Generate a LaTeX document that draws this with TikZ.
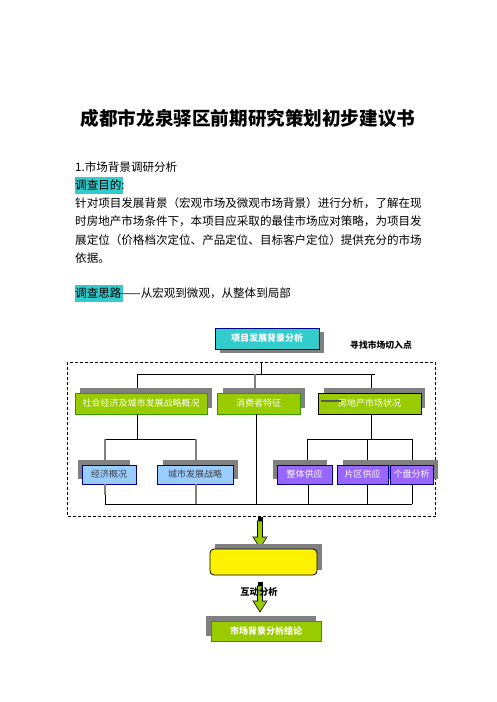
\documentclass[tikz,border=0pt]{standalone}
\usepackage{fontspec}
\setmainfont{Noto Sans CJK SC}
\usetikzlibrary{calc}
\definecolor{turq}{HTML}{33CCCC}
\definecolor{lgreen}{HTML}{99CC00}
\definecolor{dgreen}{HTML}{339900}
\definecolor{lblue}{HTML}{99CCFF}
\definecolor{purp}{HTML}{9966FF}
\definecolor{navy}{HTML}{000080}
\definecolor{shad}{HTML}{808080}
\begin{document}
\begin{tikzpicture}[x=1pt,y=-1pt,
  body/.style={anchor=west,inner sep=0pt,font=\fontsize{11.55}{14}\selectfont},
  boxbase/.style={draw,line width=0.8pt,inner sep=0pt,font=\fontsize{9}{10}\selectfont},
  gbox/.style={boxbase,fill=lgreen,draw=dgreen,text=white,minimum height=21pt},
  bbox/.style={boxbase,fill=lblue,draw=navy,text=black!75,minimum height=19pt},
  pbox/.style={boxbase,fill=purp,draw=navy,text=white,minimum height=19pt},
  shadowbox/.style={fill=shad,draw=none},
  conn/.style={line width=0.8pt,black},
  gconn/.style={line width=1.4pt,shad},
  garrow/.style={fill=lgreen,draw=black,line width=0.6pt}
]
\useasboundingbox (0,0) rectangle (496,702);
\fill[white] (0,0) rectangle (496,702);

% ---- title and text ----
\node[inner sep=0pt,font=\fontsize{18.6}{22}\selectfont\bfseries] (title) at (248,118) {成都市龙泉驿区前期研究策划初步建议书};
\node[body] (h1) at (75,167) {1.市场背景调研分析};
\fill[turq] (75,177) rectangle (122.5,193.5);
\node[body] (p0) at (75,185) {调查目的:};
\node[body] (p1) at (75,203) {针对项目发展背景（宏观市场及微观市场背景）进行分析，了解在现};
\node[body] (p2) at (75,221.5) {时房地产市场条件下，本项目应采取的最佳市场应对策略，为项目发};
\node[body] (p3) at (75,240) {展定位（价格档次定位、产品定位、目标客户定位）提供充分的市场};
\node[body] (p4) at (75,258) {依据。};
\fill[turq] (75,285) rectangle (122.5,301.5);
\node[body] (p5) at (75,293) {调查思路——从宏观到微观，从整体到局部};

% ---- top box ----
\fill[shad] (220,332) rectangle (324,353);
\node[boxbase,fill=turq,draw=navy,text=white,minimum width=104pt,minimum height=21pt,font=\fontsize{9}{10}\selectfont\bfseries] (top) at (267,338.5) {项目发展背景分析};
\node[inner sep=0pt,font=\fontsize{8.8}{10}\selectfont\bfseries] (cut) at (381,345) {寻找市场切入点};

% dashed frame
\draw[line width=0.7pt,dash pattern=on 3pt off 2pt] (67,362) rectangle (435.5,516.5);

% ---- level 2 ----
\coordinate (hub) at (261,374);
\draw[conn] (261,362) -- (hub);
\draw[conn] (137,374) -- (375,374);
\draw[conn] (137,374) -- (137,393);
\draw[conn] (371,374) -- (371,393);
\draw[gconn] (255,374) -- (255,388);

\fill[shad] (80,388) rectangle (212,408);
\fill[shad] (223,388) rectangle (305,408);
\fill[shad] (324,388) rectangle (425,408);
\node[gbox,minimum width=132pt] (A) at (141,403.5) {社会经济及城市发展战略概况};
\node[gbox,minimum width=83pt] (B) at (258.5,403.5) {消费者特征};
\node[gbox,draw=black,minimum width=103pt] (C) at (369.5,403.5) {房地产市场状况};
\draw[line width=1.4pt,black!65] (321,401) -- (341,401);

% ---- level 3 left ----
\draw[conn] (137,414) -- (137,439);
\draw[conn] (105,439) -- (196,439);
\draw[gconn] (105,439) -- (105,460);
\draw[gconn] (196,439) -- (196,460);
\fill[shad] (78,460) rectangle (130,479);
\fill[shad] (163,460) rectangle (238,479);
\node[bbox,minimum width=54pt] (L1) at (109,474.5) {经济概况};
\node[bbox,minimum width=76pt] (L2) at (195,474.5) {城市发展战略};

% ---- level 3 right ----
\draw[conn] (371,414) -- (371,439);
\draw[conn] (307,439) -- (412,439);
\draw[conn] (307,439) -- (307,460);
\draw[conn] (367,439) -- (367,460);
\draw[conn] (412,439) -- (412,460);
\fill[shad] (273,460) rectangle (327,479);
\fill[shad] (343,460) rectangle (393,479);
\fill[shad] (385,460) rectangle (438,479);
\node[pbox,minimum width=55pt] (P1) at (304.5,474.5) {整体供应};
\node[pbox,minimum width=51pt] (P2) at (362.5,474.5) {片区供应};
\node[pbox,minimum width=43pt] (P3) at (411.5,474.5) {个盘分析};

% ---- bottom collector ----
\draw[conn] (256,414) -- (256,504);
\draw[gconn] (105,484) -- (105,495);
\draw[conn] (105,495) -- (105,504);
\draw[gconn] (196,484) -- (196,504);
\draw[conn] (308,484) -- (308,504);
\draw[conn] (367,484) -- (367,504);
\draw[conn] (412,484) -- (412,504);
\draw[conn] (104.6,504) -- (412.4,504);

% ---- arrow 1 ----
\draw[garrow] (257.5,521) -- (262.5,521) -- (262.5,537) -- (267,537) -- (260,548) -- (253,537) -- (257.5,537) -- cycle;
\fill[black] (257.5,517) rectangle (262.5,521);

% yellow box
\fill[shad] (215,544) rectangle (322,570);
\node[draw=black,line width=0.8pt,fill=yellow,rounded corners=4pt,minimum width=107pt,minimum height=26pt,inner sep=0pt] (Y) at (263.5,562) {};

% ---- arrow 2 ----
\draw[garrow] (257.5,586) -- (262.5,586) -- (262.5,601) -- (267,601) -- (260,612) -- (253,601) -- (257.5,601) -- cycle;
\fill[black] (257.5,582) rectangle (262.5,586);
\node[inner sep=0pt,font=\fontsize{9.3}{10}\selectfont\bfseries] (hd) at (259,592) {互动分析};

% bottom box
\fill[shad] (206,616) rectangle (316,636);
\node[gbox,minimum width=110pt,minimum height=20pt,font=\fontsize{9}{10}\selectfont\bfseries] (E) at (266,631) {市场背景分析结论};
\end{tikzpicture}
\end{document}
